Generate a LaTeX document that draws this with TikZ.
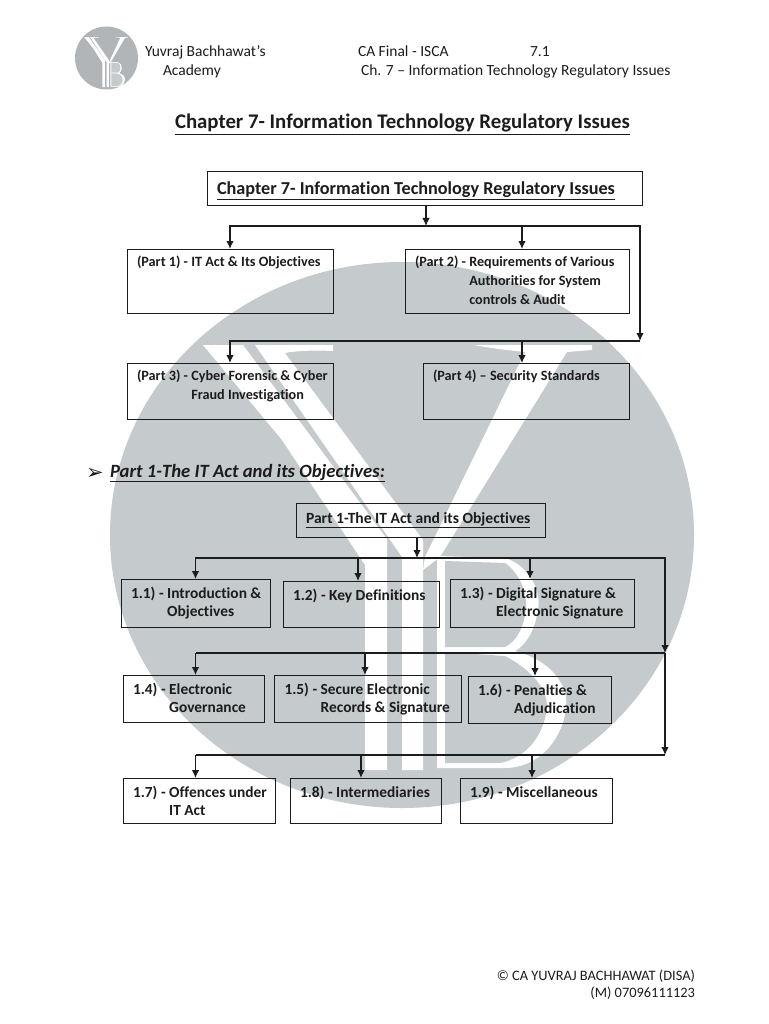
\documentclass[tikz,border=0pt]{standalone}
\usepackage{fontspec}
\setmainfont[Ligatures=NoCommon]{Carlito}
\newfontfamily\symfont{DejaVu Sans}
\usetikzlibrary{arrows.meta,positioning}
\definecolor{ink}{HTML}{1C1C1C}
\definecolor{wash}{HTML}{C5CACD}
\definecolor{logogray}{HTML}{B1B5B7}
\newlength{\boxtop}
\tikzset{
  >={Latex[width=7.5pt,length=8pt]},
  every node/.style={text=ink,inner sep=0pt,outer sep=0pt},
  box/.style={draw=ink,line width=1pt,font=\fontsize{14.2}{19}\selectfont\bfseries\setlength{\boxtop}{17.5pt}},
  subbox/.style={box,font=\fontsize{15.4}{18}\selectfont\bfseries\setlength{\boxtop}{19pt}},
  headbox/.style={draw=ink,line width=1pt},
  arrow/.style={->,line width=1.2pt,draw=ink},
  busline/.style={line width=1.2pt,draw=ink},
  header/.style={anchor=base west,font=\fontsize{15.5}{18}\selectfont},
  footer/.style={anchor=base east,font=\fontsize{14.4}{17}\selectfont},
}
\newcommand{\boxtext}[3]{\parbox[c][#2pt][t]{#1pt}{\raggedright\leftskip=10pt\rule{0pt}{\boxtop}#3}}
\newcommand{\ybmark}{
  \fill[white] (203,345) -- (243,345) -- (387,539) -- (387,770) -- (365,770) -- (365,565) -- (315,490) -- (282,440) -- cycle;
  \fill[white] (255,345) -- (333,345) -- (333,351) .. controls (312,350) and (295,351) .. (285,353) -- (423,540) -- (423,770) -- (402,770) -- (402,557) -- cycle;
  \fill[white] (474,345) -- (592,345) -- (592,350) -- (567,352) -- (440,557) -- (423,570) -- (425,557) -- (525,352) .. controls (505,350) and (490,348) .. (474,345) -- cycle;
  \fill[white] (437,556) -- (505,558) .. controls (528,565) and (542,590) .. (538,610) .. controls (535,630) and (526,645) .. (515,651) .. controls (550,660) and (570,685) .. (566,710) .. controls (560,745) and (535,768) .. (505,768) -- (437,768) -- cycle;
  \fill[wash] (445,561) -- (505,563) .. controls (518,572) and (527,590) .. (526,608) .. controls (524,628) and (516,642) .. (505,647) -- (445,647) -- cycle;
  \fill[wash] (445,652) -- (505,656) .. controls (532,670) and (548,690) .. (547,708) .. controls (543,738) and (525,758) .. (500,763) -- (445,763) -- cycle;
}
\begin{document}
\begin{tikzpicture}[x=1pt,y=-1pt]
  \useasboundingbox (0,0) rectangle (768,1024);
  \fill[wash] (402,535) ellipse [x radius=292,y radius=273];
  \ybmark
  \fill[logogray] (106.5,58) ellipse [x radius=31.5,y radius=31.5];
  \begin{scope}[shift={(61.5,-3.7)},x=0.112pt,y=-0.118pt]
    \ybmark
  \end{scope}

  \node[header] (brand) at (145,57) {Yuvraj Bachhawat’s};
  \node[header] (academy) at (163,76) {Academy};
  \node[header] (course) at (358,57) {CA Final - ISCA};
  \node[header] (pageno) at (530,57) {7.1};
  \node[header] (chapter) at (361,76) {Ch. 7 – Information Technology Regulatory Issues};
  \node[anchor=base west,font=\fontsize{20.8}{24}\selectfont\bfseries] (title) at (175,129) {\underline{Chapter 7- Information Technology Regulatory Issues}};

  \node[headbox] (main) at (424.5,189) {\parbox[c][34pt][t]{435pt}{\fontsize{18.2}{21}\selectfont\bfseries\leftskip=10pt\rule{0pt}{22.5pt}\underline{Chapter 7- Information Technology Regulatory Issues}}};
  \node[box] (part1) at (230,281) {\boxtext{206}{64}{(Part 1) - IT Act \& Its Objectives}};
  \node[box] (part2) at (517,281) {\boxtext{224}{64}{(Part 2) - Requirements of Various\\\phantom{(Part 2) - }Authorities for System\\\phantom{(Part 2) - }controls \& Audit}};
  \node[box] (part3) at (230,391) {\boxtext{206}{56}{(Part 3) - Cyber Forensic \& Cyber\\\phantom{(Part 3) - }Fraud Investigation}};
  \node[box] (part4) at (526,391) {\boxtext{206}{56}{(Part 4) – Security Standards}};

  \coordinate (busa) at (426,226);
  \coordinate (busb) at (522,226);
  \coordinate (busc) at (640,226);
  \coordinate (busd) at (640,341);
  \coordinate (buse) at (522,341);
  \draw[arrow] (main.south -| busa) -- (busa);
  \draw[arrow] (busa) -| (part1.north);
  \draw[arrow] (busb) -- (busb |- part2.north);
  \draw[arrow] (busa) -- (busc) -- (busd);
  \draw[arrow] (busd) -| (part3.north);
  \draw[arrow] (buse) -- (buse |- part4.north);

  \node[anchor=base west,font=\symfont\fontsize{21}{24}\selectfont] (bullet) at (86,479) {➢};
  \node[anchor=base west,font=\fontsize{18.7}{22}\selectfont\bfseries\itshape] (section) at (110,477) {\underline{Part 1-The IT Act and its Objectives:}};

  \node[headbox] (sec) at (420.5,520) {\parbox[c][34pt][t]{249pt}{\fontsize{15.6}{18}\selectfont\bfseries\leftskip=10pt\rule{0pt}{20pt}\underline{Part 1-The IT Act and its Objectives}}};
  \node[subbox] (topic1) at (195.5,603) {\boxtext{149}{48}{1.1) - Introduction \&\\\phantom{1.1) - }Objectives}};
  \node[subbox] (topic2) at (361,604) {\boxtext{156}{46}{1.2) - Key Definitions}};
  \node[subbox] (topic3) at (542,603) {\boxtext{184}{48}{1.3) - Digital Signature \&\\\phantom{1.3) - }Electronic Signature}};
  \node[subbox] (topic4) at (193.5,698.5) {\boxtext{141}{47}{1.4) - Electronic\\\phantom{1.4) - }Governance}};
  \node[subbox] (topic5) at (367.75,698.5) {\boxtext{186.5}{47}{1.5) - Secure Electronic\\\phantom{1.5) - }Records \& Signature}};
  \node[subbox] (topic6) at (539.5,699.5) {\boxtext{143}{47}{1.6) - Penalties \&\\\phantom{1.6) - }Adjudication}};
  \node[subbox] (topic7) at (199,800.5) {\boxtext{152}{45}{1.7) - Offences under\\\phantom{1.7) - }IT Act}};
  \node[subbox] (topic8) at (365.5,800.5) {\boxtext{151}{45}{1.8) - Intermediaries}};
  \node[subbox] (topic9) at (536,800.5) {\boxtext{152}{45}{1.9) - Miscellaneous}};

  \coordinate (rowa) at (417,558);
  \coordinate (rowb) at (358,558);
  \coordinate (rowc) at (530,558);
  \coordinate (rowd) at (665,558);
  \coordinate (rowe) at (665,653);
  \coordinate (rowf) at (365,653);
  \coordinate (rowg) at (535,653);
  \coordinate (rowh) at (665,755);
  \coordinate (rowi) at (361,755);
  \coordinate (rowj) at (532,755);
  \coordinate (rowk) at (195.5,653);
  \coordinate (rowl) at (195.5,755);
  \draw[arrow] (sec.south -| rowa) -- (rowa);
  \draw[arrow] (rowa) -| (topic1.north);
  \draw[arrow] (rowb) -- (rowb |- topic2.north);
  \draw[arrow] (rowc) -- (rowc |- topic3.north);
  \draw[arrow] (rowa) -- (rowd) -- (rowe);
  \draw[busline] (rowe) -- (rowk);
  \draw[arrow] (rowk) -- (rowk |- topic4.north);
  \draw[arrow] (rowf) -- (rowf |- topic5.north);
  \draw[arrow] (rowg) -- (rowg |- topic6.north);
  \draw[arrow] (rowe) -- (rowh);
  \draw[busline] (rowh) -- (rowl);
  \draw[arrow] (rowl) -- (rowl |- topic7.north);
  \draw[arrow] (rowi) -- (rowi |- topic8.north);
  \draw[arrow] (rowj) -- (rowj |- topic9.north);

  \node[footer] (copyright) at (695,980) {© CA YUVRAJ BACHHAWAT (DISA)};
  \node[footer] (phone) at (695,997) {(M) 07096111123};
\end{tikzpicture}
\end{document}
